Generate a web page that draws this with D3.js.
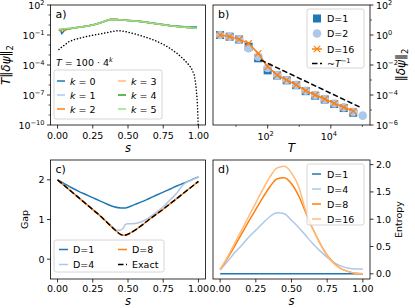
<!DOCTYPE html>
<html><head><meta charset="utf-8">
<script src="https://cdn.jsdelivr.net/npm/d3@7"></script>
<style>body{margin:0;background:#fff}svg{display:block}text{font-family:"DejaVu Sans",sans-serif;fill:#000}</style>
</head><body><svg id="c" width="415" height="308"></svg>
<script>
// ---------- DATA ----------
// panel a
const sA = [0.01,0.02,0.03,0.05,0.07,0.1,0.15,0.2,0.25,0.3,0.35,0.38,0.42,0.46,0.5,0.55,0.6,0.65,0.7,0.75,0.8,0.85,0.9,0.95,0.99];
const aK0 = [0.36,0.30,0.14,0.30,0.42,0.45,0.58,0.75,1.0,1.58,2.8,3.7,3.6,3.2,2.9,2.6,2.2,1.75,1.4,1.12,0.9,0.78,0.68,0.64,0.62];
const aK1 = [0.40,0.36,0.38,0.41,0.44,0.47,0.60,0.76,1.0,1.58,2.8,3.8,3.6,3.15,2.8,2.5,2.1,1.68,1.33,1.06,0.85,0.72,0.62,0.55,0.5];
const aK2 = [0.33,0.25,0.40,0.30,0.38,0.46,0.58,0.76,1.0,1.6,2.85,3.8,3.6,3.15,2.8,2.5,2.1,1.66,1.32,1.05,0.84,0.71,0.6,0.53,0.49];
const aK3 = [0.38,0.34,0.39,0.40,0.43,0.47,0.60,0.76,1.0,1.58,2.82,3.8,3.63,3.16,2.82,2.51,2.09,1.66,1.32,1.05,0.83,0.71,0.6,0.52,0.48];
const aK4 = [0.37,0.32,0.36,0.42,0.40,0.47,0.60,0.76,1.0,1.58,2.82,3.8,3.63,3.16,2.82,2.51,2.09,1.66,1.32,1.05,0.83,0.71,0.6,0.52,0.48];
const aK5 = [0.38,0.355,0.40,0.42,0.44,0.47,0.60,0.76,1.0,1.58,2.82,3.8,3.63,3.16,2.82,2.51,2.09,1.66,1.32,1.05,0.83,0.71,0.6,0.52,0.48];
const sDot = [0.01,0.03,0.05,0.08,0.12,0.18,0.25,0.3,0.35,0.4,0.43,0.47,0.5,0.55,0.6,0.65,0.7,0.75,0.8,0.85,0.9,0.93,0.95,0.97,0.98,0.99,0.995,1.0];
const aDot = [0.00355,0.0063,0.01,0.0214,0.0355,0.059,0.0955,0.126,0.174,0.24,0.27,0.24,0.19,0.126,0.079,0.047,0.025,0.0117,0.0045,0.0014,3.2e-4,1.1e-4,4.7e-5,1e-5,1.5e-6,5e-8,2e-9,1e-11];
const kLabels = ["0","1","2","3","4","5"];
// panel b
const Tb = [3.125,6.25,12.5,25,50,100,200,400,800,1600,3200,6400,12800,25600,51200,102400];
const bD1 = [1.0,0.77,0.5,0.166,0.028,0.0044,0.002,0.00095,0.00045,0.00018,0.00009,0.00005,0.000025,0.0000135,0.0000066];
const bD2 = [1.0,0.77,0.5,0.13,0.036,0.0063,0.0021,0.001,0.00047,0.00019,0.000098,0.000053,0.000027,0.000015,0.0000075,0.0000042];
const bD16 = [1.0,0.78,0.51,0.275,0.06,0.0078,0.0021,0.001,0.00047,0.000195,0.0001,0.000054,0.0000275,0.0000151,0.0000085];
const TFit = [60,90000];
const fitC = 1.3;
// panel c
const sC = [0,0.05,0.1,0.15,0.2,0.25,0.3,0.35,0.4,0.45,0.475,0.5,0.55,0.6,0.65,0.7,0.75,0.8,0.85,0.9,0.95,1.0];
const gapD1 = [2.0,1.9,1.8,1.71,1.63,1.55,1.47,1.39,1.32,1.29,1.29,1.31,1.38,1.45,1.53,1.61,1.69,1.77,1.85,1.92,2.0,2.07];
const gapD8 = [2.0,1.85,1.7,1.55,1.4,1.25,1.1,0.93,0.76,0.62,0.6,0.63,0.73,0.86,1.0,1.13,1.26,1.4,1.54,1.68,1.82,1.96];
const gapEx = [2.0,1.85,1.7,1.55,1.4,1.25,1.1,0.93,0.76,0.62,0.6,0.63,0.73,0.86,1.0,1.13,1.26,1.4,1.54,1.68,1.82,1.96];
const sC4 = [0,0.05,0.1,0.15,0.2,0.25,0.3,0.35,0.4,0.42,0.44,0.46,0.47,0.48,0.5,0.55,0.6,0.65,0.7,0.75,0.8,0.85,0.88,0.9,0.95,1.0];
const gapD4 = [2.0,1.85,1.7,1.55,1.4,1.25,1.1,0.94,0.78,0.73,0.73,0.76,0.8,0.87,0.89,0.9,0.95,1.05,1.18,1.32,1.5,1.68,1.83,1.9,1.99,2.07];
// panel d
const sD = [0,0.05,0.1,0.15,0.2,0.25,0.3,0.35,0.4,0.45,0.5,0.55,0.6,0.65,0.7,0.75,0.8,0.85,0.9,0.95,1.0];
const entD1 = [0,0,0,0,0,0,0,0,0,0,0,0,0,0,0,0,0,0,0,0,0];
const entD4 = [0.07,0.22,0.38,0.52,0.67,0.8,0.93,1.05,1.12,1.1,0.98,0.85,0.7,0.55,0.42,0.3,0.2,0.14,0.1,0.09,0.09];
const entD8 = [0.08,0.28,0.5,0.73,0.96,1.18,1.4,1.6,1.74,1.76,1.65,1.43,1.12,0.82,0.56,0.34,0.19,0.09,0.04,0.01,0];
const entD16 = [0.08,0.3,0.55,0.8,1.05,1.3,1.55,1.78,1.94,1.97,1.85,1.6,1.15,0.82,0.55,0.33,0.18,0.09,0.04,0.01,0];

// ---------- COLOURS ----------
const C = {blue:"#1f77b4", lblue:"#aec7e8", orange:"#ff7f0e", lorange:"#ffbb78", green:"#2ca02c", lgreen:"#98df8a"};

const svg = d3.select("#c");
const FS = 9.5;
const L = {a:{x0:50.5,x1:205.5,y0:5,y1:125}, b:{x0:213,x1:370,y0:5,y1:125},
           c:{x0:50.5,x1:205.5,y0:160,y1:279}, d:{x0:213,x1:370,y0:160,y1:279}};

function frame(p){
  svg.append("rect").attr("x",p.x0).attr("y",p.y0).attr("width",p.x1-p.x0).attr("height",p.y1-p.y0)
    .attr("fill","none").attr("stroke","#000").attr("stroke-width",0.8);
}
function clip(id,p){
  svg.append("clipPath").attr("id",id).append("rect").attr("x",p.x0).attr("y",p.y0).attr("width",p.x1-p.x0).attr("height",p.y1-p.y0);
  return svg.append("g").attr("clip-path",`url(#${id})`);
}
function supText(g, exp, x, y, anchor){
  const t = g.append("text").attr("x",x).attr("y",y).attr("font-size",FS).attr("text-anchor",anchor);
  t.append("tspan").text("10");
  t.append("tspan").attr("dy",-4).attr("font-size",FS*0.7).text(exp<0?"\u2212"+(-exp):exp);
  return t;
}
function xTicksLin(p, x, vals, fmt, off){
  vals.forEach(v=>{
    const px = x(v);
    svg.append("line").attr("x1",px).attr("x2",px).attr("y1",p.y1).attr("y2",p.y1+3.5).attr("stroke","#000").attr("stroke-width",0.8);
    svg.append("text").attr("x",px).attr("y",p.y1+off).attr("font-size",FS).attr("text-anchor","middle").text(fmt(v));
  });
}
function yTicks(p, y, vals, side, labelFn){
  vals.forEach(v=>{
    const py = y(v);
    const xa = side==="left"?p.x0:p.x1;
    const dir = side==="left"?-1:1;
    svg.append("line").attr("x1",xa).attr("x2",xa+dir*3.5).attr("y1",py).attr("y2",py).attr("stroke","#000").attr("stroke-width",0.8);
    labelFn(v, xa+dir*6, py+3.5, side==="left"?"end":"start");
  });
}
function legendBox(x,y,w,h){
  svg.append("rect").attr("x",x).attr("y",y).attr("width",w).attr("height",h).attr("rx",2)
    .attr("fill","#fff").attr("fill-opacity",0.8).attr("stroke","#ccc").attr("stroke-width",0.8);
}
function mathItalic(g,x,y,txt,size){
  return g.append("text").attr("x",x).attr("y",y).attr("font-size",size).attr("font-family","'DejaVu Serif',serif").attr("font-style","italic").attr("text-anchor","middle").text(txt);
}
function panelLabel(p,txt){
  svg.append("text").attr("x",p.x0+5).attr("y",p.y0+13).attr("font-size",11).attr("font-family","'DejaVu Serif',serif").text(txt);
}

// ---------- PANEL A ----------
(function(){
  const p=L.a;
  const x=d3.scaleLinear().domain([-0.05,1.05]).range([p.x0,p.x1]);
  const y=d3.scaleLog().domain([1e-10,1e2]).range([p.y1,p.y0]);
  const g=clip("ca",p);
  const line=d3.line().x(d=>x(d[0])).y(d=>y(Math.max(d[1],1e-12)));
  const ser=[aK0,aK1,aK2,aK3,aK4,aK5];
  const cols=[C.blue,C.lblue,C.orange,C.lorange,C.green,C.lgreen];
  ser.forEach((s,i)=>g.append("path").attr("d",line(sA.map((v,j)=>[v,s[j]]))).attr("fill","none").attr("stroke",cols[i]).attr("stroke-width",1.5));
  g.append("path").attr("d",line(sDot.map((v,j)=>[v,aDot[j]]))).attr("fill","none").attr("stroke","#000")
    .attr("stroke-width",1.5).attr("stroke-dasharray","0.1,3").attr("stroke-linecap","round");
  frame(p);
  xTicksLin(p,x,[0,0.25,0.5,0.75,1],d3.format(".2f"),14);
  yTicks(p,y,[1e2,1e-1,1e-4,1e-7,1e-10],"left",(v,xx,yy,an)=>supText(svg,Math.round(Math.log10(v)),xx,yy,an));
  [1e1,1e0,1e-2,1e-3,1e-5,1e-6,1e-8,1e-9].forEach(v=>svg.append("line").attr("x1",p.x0).attr("x2",p.x0-2).attr("y1",y(v)).attr("y2",y(v)).attr("stroke","#000").attr("stroke-width",0.6));
  mathItalic(svg,(p.x0+p.x1)/2,p.y1+26.5,"s",11.5);
  const yl=svg.append("text").attr("transform",`translate(10,${(p.y0+p.y1)/2}) rotate(-90)`).attr("text-anchor","middle").attr("font-size",12).attr("font-family","'DejaVu Serif',serif");
  yl.append("tspan").attr("font-style","italic").text("T");
  yl.append("tspan").text("\u2016");
  yl.append("tspan").attr("font-style","italic").text("\u03b4\u03c8");
  yl.append("tspan").text("\u2016");
  yl.append("tspan").attr("dy",3).attr("font-size",8.5).text("2");
  panelLabel(p,"a)");
  const t=svg.append("text").attr("x",56).attr("y",66).attr("font-size",FS);
  t.append("tspan").attr("font-style","italic").text("T");
  t.append("tspan").text(" = 100 \u00b7 4");
  t.append("tspan").attr("dy",-4).attr("font-size",FS*0.7).attr("font-style","italic").text("k");
  legendBox(54,70,108,49);
  kLabels.forEach((k,i)=>{
    const col=Math.floor(i/3), row=i%3;
    const lx=col?118:57, ly=81+row*14;
    svg.append("line").attr("x1",lx).attr("x2",lx+8).attr("y1",ly).attr("y2",ly).attr("stroke",cols[i]).attr("stroke-width",1.5);
    const tt=svg.append("text").attr("x",lx+13).attr("y",ly+3.5).attr("font-size",FS);
    tt.append("tspan").attr("font-style","italic").text("k");
    tt.append("tspan").text(" = "+k);
  });
})();

// ---------- PANEL B ----------
(function(){
  const p=L.b;
  const x=d3.scaleLog().domain([Math.pow(10,0.27),Math.pow(10,5.24)]).range([p.x0,p.x1]);
  const y=d3.scaleLog().domain([1e-6,1e2]).range([p.y1,p.y0]);
  const g=clip("cb",p);
  bD1.forEach((v,i)=>g.append("rect").attr("x",x(Tb[i])-4).attr("y",y(v)-4).attr("width",8).attr("height",8).attr("fill",C.blue));
  bD2.forEach((v,i)=>g.append("circle").attr("cx",x(Tb[i])).attr("cy",y(v)).attr("r",4.3).attr("fill",C.lblue));
  const line=d3.line().x(d=>x(d[0])).y(d=>y(d[1]));
  g.append("path").attr("d",line(bD16.map((v,i)=>[Tb[i],v]))).attr("fill","none").attr("stroke",C.orange).attr("stroke-width",1.5);
  bD16.forEach((v,i)=>{
    const cx=x(Tb[i]),cy=y(v);
    g.append("path").attr("d",`M${cx-3.2},${cy-3.2}L${cx+3.2},${cy+3.2}M${cx-3.2},${cy+3.2}L${cx+3.2},${cy-3.2}`).attr("stroke",C.orange).attr("stroke-width",1.2);
  });
  g.append("path").attr("d",line(TFit.map(t=>[t,fitC/t]))).attr("fill","none").attr("stroke","#000").attr("stroke-width",1.5).attr("stroke-dasharray","5.5,2.5");
  frame(p);
  [1e2,1e4].forEach(v=>{
    svg.append("line").attr("x1",x(v)).attr("x2",x(v)).attr("y1",p.y1).attr("y2",p.y1+3.5).attr("stroke","#000").attr("stroke-width",0.8);
    supText(svg,Math.round(Math.log10(v)),x(v)-2,p.y1+14.5,"middle");
  });
  [1e1,1e3,1e5].forEach(v=>svg.append("line").attr("x1",x(v)).attr("x2",x(v)).attr("y1",p.y1).attr("y2",p.y1+2).attr("stroke","#000").attr("stroke-width",0.6));
  yTicks(p,y,[1e2,1e0,1e-2,1e-4,1e-6],"right",(v,xx,yy,an)=>supText(svg,Math.round(Math.log10(v)),xx,yy,an));
  [1e1,1e-1,1e-3,1e-5].forEach(v=>svg.append("line").attr("x1",p.x1).attr("x2",p.x1+2).attr("y1",y(v)).attr("y2",y(v)).attr("stroke","#000").attr("stroke-width",0.6));
  mathItalic(svg,(p.x0+p.x1)/2,p.y1+27,"T",12);
  const yl=svg.append("text").attr("transform",`translate(405,${(p.y0+p.y1)/2}) rotate(-90)`).attr("text-anchor","middle").attr("font-size",12).attr("font-family","'DejaVu Serif',serif");
  yl.append("tspan").text("\u2016");
  yl.append("tspan").attr("font-style","italic").text("\u03b4\u03c8");
  yl.append("tspan").text("\u2016");
  yl.append("tspan").attr("dy",3).attr("font-size",8.5).text("2");
  panelLabel(p,"b)");
  legendBox(307,9,57,59);
  const rows=[18.5,33.5,49,63.5];
  const hx=317;
  svg.append("rect").attr("x",hx-4).attr("y",rows[0]-4).attr("width",8).attr("height",8).attr("fill",C.blue);
  svg.append("circle").attr("cx",hx).attr("cy",rows[1]).attr("r",4.3).attr("fill",C.lblue);
  svg.append("line").attr("x1",hx-5).attr("x2",hx+5).attr("y1",rows[2]).attr("y2",rows[2]).attr("stroke",C.orange).attr("stroke-width",1.5);
  svg.append("path").attr("d",`M${hx-3.2},${rows[2]-3.2}L${hx+3.2},${rows[2]+3.2}M${hx-3.2},${rows[2]+3.2}L${hx+3.2},${rows[2]-3.2}`).attr("stroke",C.orange).attr("stroke-width",1.2);
  svg.append("line").attr("x1",hx-5).attr("x2",hx+5).attr("y1",rows[3]).attr("y2",rows[3]).attr("stroke","#000").attr("stroke-width",1.5).attr("stroke-dasharray","5.5,2.5");
  ["D=1","D=2","D=16"].forEach((t,i)=>svg.append("text").attr("x",327).attr("y",rows[i]+3.5).attr("font-size",FS).text(t));
  const ft=svg.append("text").attr("x",327).attr("y",rows[3]+3.5).attr("font-size",FS).attr("font-family","'DejaVu Serif',serif");
  ft.append("tspan").text("~");
  ft.append("tspan").attr("font-style","italic").text("T");
  ft.append("tspan").attr("dy",-4).attr("font-size",FS*0.7).text("\u22121");
})();

// ---------- PANEL C ----------
(function(){
  const p=L.c;
  const x=d3.scaleLinear().domain([-0.05,1.05]).range([p.x0,p.x1]);
  const y=d3.scaleLinear().domain([-0.5,2.5]).range([p.y1,p.y0]);
  const g=clip("cc",p);
  const line=d3.line().x(d=>x(d[0])).y(d=>y(d[1])).curve(d3.curveMonotoneX);
  g.append("path").attr("d",line(sC.map((v,i)=>[v,gapD1[i]]))).attr("fill","none").attr("stroke",C.blue).attr("stroke-width",1.5);
  g.append("path").attr("d",line(sC4.map((v,i)=>[v,gapD4[i]]))).attr("fill","none").attr("stroke",C.lblue).attr("stroke-width",1.5);
  g.append("path").attr("d",line(sC.map((v,i)=>[v,gapD8[i]]))).attr("fill","none").attr("stroke",C.orange).attr("stroke-width",1.5);
  g.append("path").attr("d",line(sC.map((v,i)=>[v,gapEx[i]]))).attr("fill","none").attr("stroke","#000").attr("stroke-width",1.5).attr("stroke-dasharray","5.5,2.5");
  frame(p);
  xTicksLin(p,x,[0,0.25,0.5,0.75,1],d3.format(".2f"),12.5);
  yTicks(p,y,[0,1,2],"left",(v,xx,yy,an)=>svg.append("text").attr("x",xx).attr("y",yy).attr("font-size",FS).attr("text-anchor",an).text(v));
  mathItalic(svg,(p.x0+p.x1)/2,p.y1+26,"s",11.5);
  svg.append("text").attr("transform",`translate(28,${(p.y0+p.y1)/2}) rotate(-90)`).attr("text-anchor","middle").attr("font-size",FS).text("Gap");
  panelLabel(p,"c)");
  legendBox(54,240,110,32);
  const items=[["D=1",C.blue,false],["D=4",C.lblue,false],["D=8",C.orange,false],["Exact","#000",true]];
  items.forEach((it,i)=>{
    const col=Math.floor(i/2),row=i%2;
    const lx=col?118:59, ly=249.5+row*15;
    const l=svg.append("line").attr("x1",lx).attr("x2",lx+9).attr("y1",ly).attr("y2",ly).attr("stroke",it[1]).attr("stroke-width",1.5);
    if(it[2]) l.attr("stroke-dasharray","5.5,2.5");
    svg.append("text").attr("x",lx+14).attr("y",ly+3.5).attr("font-size",FS).text(it[0]);
  });
})();

// ---------- PANEL D ----------
(function(){
  const p=L.d;
  const x=d3.scaleLinear().domain([-0.05,1.05]).range([p.x0,p.x1]);
  const y=d3.scaleLinear().domain([-0.095,2.085]).range([p.y1,p.y0]);
  const g=clip("cd",p);
  const line=d3.line().x(d=>x(d[0])).y(d=>y(d[1])).curve(d3.curveMonotoneX);
  [[entD1,C.blue],[entD4,C.lblue],[entD8,C.orange],[entD16,C.lorange]].forEach(s=>
    g.append("path").attr("d",line(sD.map((v,i)=>[v,s[0][i]]))).attr("fill","none").attr("stroke",s[1]).attr("stroke-width",1.5));
  frame(p);
  xTicksLin(p,x,[0,0.25,0.5,0.75,1],d3.format(".2f"),12.5);
  yTicks(p,y,[0,0.5,1,1.5,2],"right",(v,xx,yy,an)=>svg.append("text").attr("x",xx).attr("y",yy).attr("font-size",FS).attr("text-anchor",an).text(d3.format(".1f")(v)));
  mathItalic(svg,(p.x0+p.x1)/2,p.y1+26,"s",11.5);
  svg.append("text").attr("transform",`translate(402,${(p.y0+p.y1)/2}) rotate(-90)`).attr("text-anchor","middle").attr("font-size",FS).text("Entropy");
  panelLabel(p,"d)");
  legendBox(307,164,57,61);
  [["D=1",C.blue],["D=4",C.lblue],["D=8",C.orange],["D=16",C.lorange]].forEach((it,i)=>{
    const ly=174+i*15;
    svg.append("line").attr("x1",312).attr("x2",321).attr("y1",ly).attr("y2",ly).attr("stroke",it[1]).attr("stroke-width",1.5);
    svg.append("text").attr("x",327).attr("y",ly+3.5).attr("font-size",FS).text(it[0]);
  });
})();
</script></body></html>
